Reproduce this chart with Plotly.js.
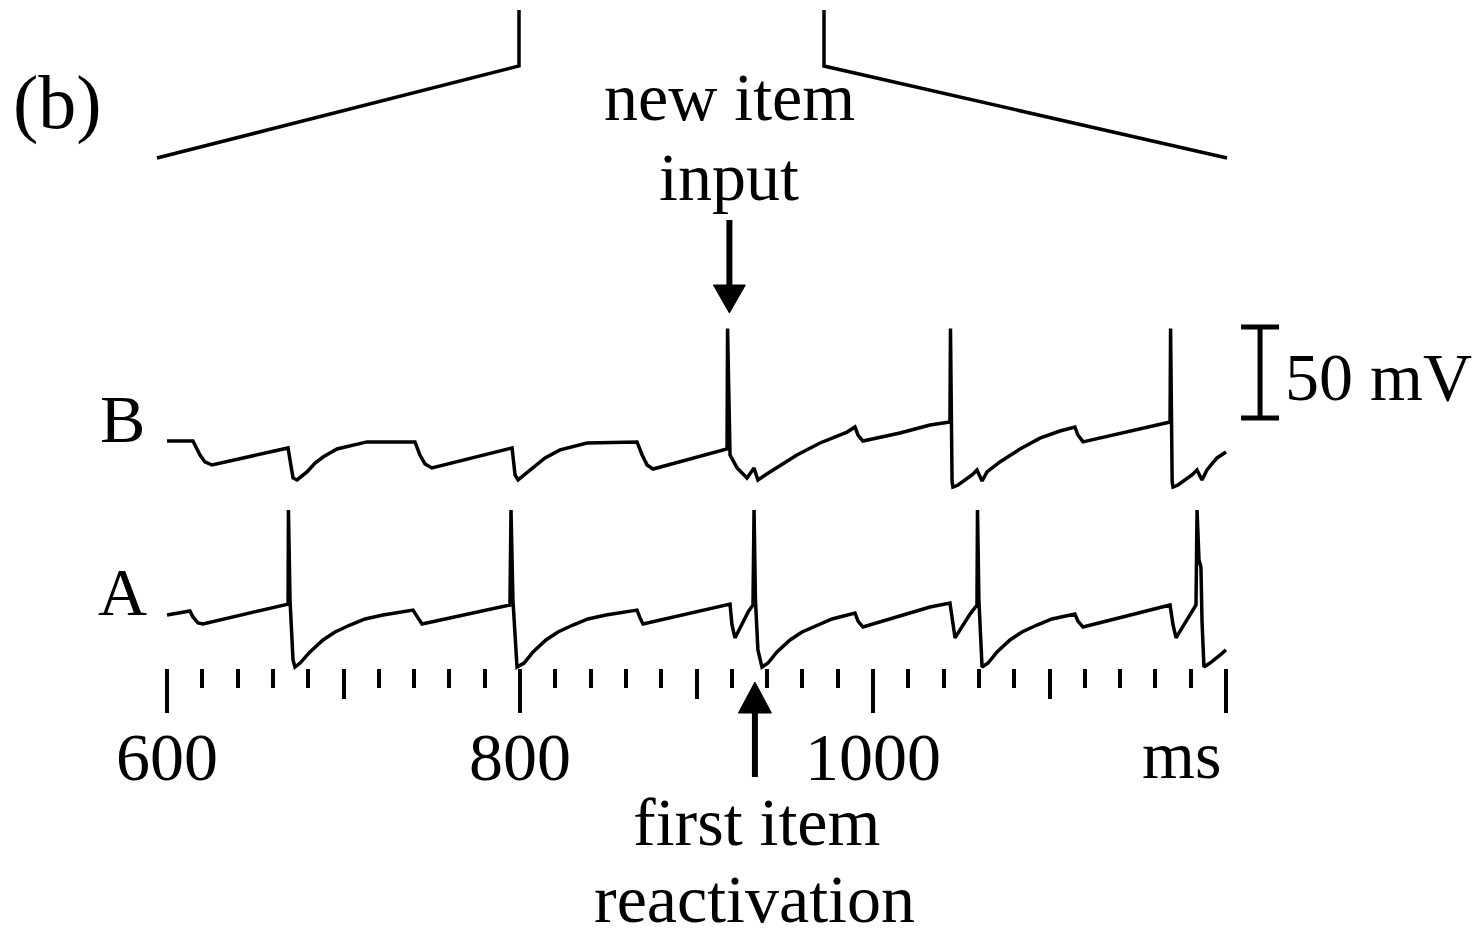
<!DOCTYPE html>
<html><head><meta charset="utf-8">
<script src="https://cdn.plot.ly/plotly-3.0.1.min.js"></script>
<style>html,body{margin:0;padding:0;background:#fff;} #chart{width:1483px;height:934px;}</style>
</head><body><div id="chart"></div>
<script>
// ---- data (time in ms, membrane potential in mV) ----
const timeA = [600.0, 607.4, 613.0, 614.7, 617.6, 620.4, 668.6, 668.8, 669.7, 671.4, 672.5, 675.4, 681.0, 688.4, 695.2, 703.7, 712.2, 722.4, 739.4, 742.2, 744.5,
  794.3, 794.9, 796.0, 798.3, 802.3, 807.4, 814.7, 821.5, 830.0, 838.5, 848.7, 866.3, 868.0, 869.7,
  919.0, 920.1, 921.8, 924.6, 929.2, 932.0, 932.6, 933.4, 934.8, 937.1, 940.5, 945.6, 953.0, 959.8, 968.3, 976.8, 989.8, 991.5, 994.3, 1032.3, 1043.6,
  1045.3, 1046.5, 1049.3, 1055.0, 1058.9, 1059.2, 1060.0, 1061.8, 1065.2, 1070.3, 1077.6, 1084.4, 1092.9, 1101.4, 1114.4, 1116.1, 1119.0, 1168.3,
  1170.0, 1171.7, 1175.1, 1179.6, 1183.0, 1183.6, 1184.7, 1185.8, 1186.4, 1187.5, 1190.9, 1196.6, 1200.0];
const voltA = [-65.0, -63.9, -62.8, -66.1, -69.4, -69.9, -59.0, -7.3, -56.8, -89.7, -93.6, -91.4, -85.3, -78.7, -74.3, -70.5, -67.2, -65.0, -62.3, -66.6, -69.9,
  -59.5, -7.3, -56.8, -93.6, -91.4, -85.3, -78.7, -74.3, -70.5, -67.2, -65.0, -62.3, -66.6, -69.9,
  -59.0, -70.5, -77.6, -72.1, -63.4, -59.5, -7.3, -56.8, -84.2, -93.6, -91.4, -85.3, -78.7, -74.3, -70.5, -67.2, -63.9, -68.3, -71.6, -60.6, -58.4,
  -70.5, -77.6, -73.2, -64.5, -59.5, -7.3, -56.8, -93.6, -91.4, -85.3, -78.7, -74.3, -70.5, -67.2, -64.5, -68.3, -71.6, -59.5,
  -70.5, -77.6, -72.1, -64.5, -59.5, -7.3, -34.8, -38.6, -68.3, -93.6, -91.4, -87.0, -84.2];

const timeB = [600.0, 614.7, 618.7, 621.5, 625.5, 668.6, 669.7, 671.4, 673.7, 679.3, 683.9, 688.4, 696.3, 700.8, 713.3, 740.5, 743.3, 746.2, 750.1,
  795.5, 797.2, 798.9, 805.7, 814.2, 822.7, 838.0, 866.3, 869.2, 872.0, 875.4,
  917.3, 917.6, 919.0, 923.0, 928.6, 932.6, 934.8, 941.6, 956.9, 970.0, 985.3, 989.8, 991.5, 994.3, 1015.3, 1032.3,
  1043.6, 1043.9, 1044.8, 1045.3, 1048.2, 1056.1, 1058.9, 1061.8, 1064.6, 1071.9, 1083.3, 1094.6, 1105.9, 1114.4, 1116.1, 1119.0,
  1168.3, 1168.6, 1169.5, 1170.0, 1172.8, 1180.7, 1183.6, 1186.4, 1189.2, 1194.9, 1200.0];
const voltB = [-65.0, -65.0, -72.7, -76.5, -78.2, -68.8, -75.4, -85.3, -86.4, -82.0, -77.1, -73.8, -69.4, -68.3, -65.5, -65.5, -72.7, -77.6, -79.8,
  -68.8, -83.7, -86.4, -80.9, -74.3, -69.9, -66.1, -65.5, -72.7, -78.2, -80.4,
  -69.4, -3.2, -72.7, -79.8, -85.3, -79.8, -86.4, -82.0, -72.7, -66.1, -60.1, -57.3, -61.7, -65.0, -60.6, -56.2,
  -54.6, -3.2, -87.5, -90.3, -89.2, -83.7, -80.9, -87.0, -82.0, -76.5, -69.4, -63.4, -59.5, -57.3, -61.7, -65.5,
  -54.6, -3.2, -87.5, -90.3, -89.2, -83.7, -80.9, -86.4, -80.9, -74.3, -71.0];

const majorTicks = [600, 800, 1000, 1200];
const majorTickLabels = ['600', '800', '1000', ''];
const midTicks = [700, 900, 1100];
const minorStep = 20;
const unitLabel = 'ms';
const scaleBarMv = 50;
const newSpikeB = 917.5;     // "new item input" (B spike)
const reactSpikeA = 933.1;   // "first item reactivation" (A spike)

// ---- geometry ----
const W = 1483, H = 934;
const X0PX = 167, X1PX = 1226, T0 = 600, T1 = 1200;
const pxPerMs = (X1PX - X0PX) / (T1 - T0);
const pxPerMv = 1.82;
const baseAPx = 615, baseBPx = 441, baseV = -65;
const offsetB = (baseAPx - baseBPx) / pxPerMv;
const xr = [T0 - X0PX / pxPerMs, T0 + (W - X0PX) / pxPerMs];
const yr = [baseV - (H - baseAPx) / pxPerMv, baseV + baseAPx / pxPerMv];
const vY = py => baseV + (baseAPx - py) / pxPerMv;
const msW = px => px / pxPerMs;
const PX = px => px / W, PY = py => 1 - py / H;
const axisPx = 668;

const minorTicks = [];
for (let t = T0 + minorStep; t < T1; t += minorStep) {
  if (t % 100 !== 0) minorTicks.push(t);
}

const FONT = 'Liberation Serif, Times New Roman, serif';
const ink = '#000';

const traces = [
  {x: timeA, y: voltA, mode: 'lines', line: {color: ink, width: 3.5}, hoverinfo: 'skip', showlegend: false},
  {x: timeB, y: voltB.map(v => v + offsetB), mode: 'lines', line: {color: ink, width: 3.5}, hoverinfo: 'skip', showlegend: false},
  {x: [], y: [], xaxis: 'x2', mode: 'lines', hoverinfo: 'skip', showlegend: false}
];

function txt(text, xpx, ypx, size, anchor) {
  return {xref: 'paper', yref: 'paper', x: PX(xpx), y: PY(ypx), text: text, showarrow: false,
    xanchor: anchor || 'center', yanchor: 'middle', font: {family: FONT, size: size || 68, color: ink}};
}

const ls = {color: ink, width: 3.5};
const shapes = [
  // zoom bracket lines from panel (a)
  {type: 'path', xref: 'paper', yref: 'paper', path: `M${PX(157)},${PY(158)} L${PX(519)},${PY(66)} L${PX(519)},${PY(10)}`, line: ls},
  {type: 'path', xref: 'paper', yref: 'paper', path: `M${PX(824)},${PY(10)} L${PX(824)},${PY(66)} L${PX(1227)},${PY(158)}`, line: ls},
  // scale bar 50 mV
  {type: 'line', xref: 'x', yref: 'y', x0: 1219.3, x1: 1219.3, y0: vY(327), y1: vY(327) - scaleBarMv, line: {color: ink, width: 5}},
  {type: 'line', xref: 'x', yref: 'y', x0: 1219.3 - msW(19), x1: 1219.3 + msW(19), y0: vY(327), y1: vY(327), line: {color: ink, width: 5}},
  {type: 'line', xref: 'x', yref: 'y', x0: 1219.3 - msW(19), x1: 1219.3 + msW(19), y0: vY(327) - scaleBarMv, y1: vY(327) - scaleBarMv, line: {color: ink, width: 5}},
  // arrow down to new B spike
  {type: 'line', xref: 'x', yref: 'y', x0: newSpikeB + msW(2), x1: newSpikeB + msW(2), y0: vY(220), y1: vY(290), line: {color: ink, width: 6}},
  {type: 'path', xref: 'x', yref: 'y', path: `M${newSpikeB + msW(2) - msW(16)},${vY(285)} L${newSpikeB + msW(2) + msW(16)},${vY(285)} L${newSpikeB + msW(2)},${vY(313)} Z`, fillcolor: ink, line: {color: ink, width: 1}},
  // arrow up to A spike
  {type: 'line', xref: 'x', yref: 'y', x0: reactSpikeA, x1: reactSpikeA, y0: vY(777), y1: vY(708), line: {color: ink, width: 6}},
  {type: 'path', xref: 'x', yref: 'y', path: `M${reactSpikeA - msW(16.5)},${vY(713)} L${reactSpikeA + msW(16.5)},${vY(713)} L${reactSpikeA},${vY(682)} Z`, fillcolor: ink, line: {color: ink, width: 1}}
];

const annotations = [
  txt('(b)', 11, 103, 76, 'left'),
  txt('new item', 729, 97),
  txt('input', 729, 177),
  txt('B', 123, 419),
  txt('A', 122, 592),
  txt('50 mV', 1283, 377, 68, 'left'),
  txt(unitLabel, 1181, 755),
  txt('first item', 756, 822),
  txt('reactivation', 754, 899)
];

const layout = {
  width: W, height: H,
  margin: {l: 0, r: 0, t: 0, b: 0, pad: 0},
  paper_bgcolor: '#fff', plot_bgcolor: '#fff',
  showlegend: false,
  xaxis: {
    range: xr, anchor: 'free', position: PY(axisPx), side: 'bottom',
    showline: false, showgrid: false, zeroline: false, fixedrange: true,
    ticks: 'outside', tickmode: 'array', tickvals: majorTicks, ticktext: majorTickLabels,
    ticklen: 44, tickwidth: 4, tickcolor: ink, ticklabelstandoff: -15,
    tickfont: {family: FONT, size: 68, color: ink},
    minor: {ticks: 'outside', tickmode: 'array', tickvals: minorTicks, ticklen: 19, tickwidth: 4, tickcolor: ink, showgrid: false}
  },
  xaxis2: {
    range: xr, overlaying: 'x', anchor: 'free', position: PY(axisPx), side: 'bottom',
    showline: false, showgrid: false, zeroline: false, fixedrange: true,
    ticks: 'outside', tickmode: 'array', tickvals: midTicks, ticklen: 30, tickwidth: 4, tickcolor: ink,
    showticklabels: false
  },
  yaxis: {range: yr, visible: false, showgrid: false, zeroline: false, fixedrange: true},
  shapes: shapes,
  annotations: annotations
};

Plotly.newPlot('chart', traces, layout, {displayModeBar: false, staticPlot: true});
</script>
</body></html>
